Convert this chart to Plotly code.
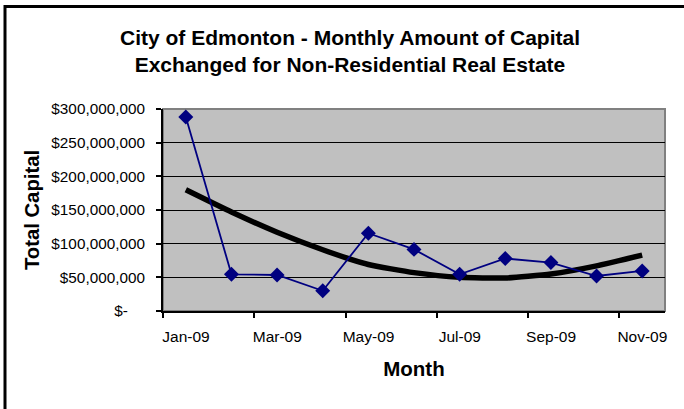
import plotly.graph_objects as go

months = ["Jan-09", "Feb-09", "Mar-09", "Apr-09", "May-09", "Jun-09",
          "Jul-09", "Aug-09", "Sep-09", "Oct-09", "Nov-09"]
capital = [288e6, 54.5e6, 53.5e6, 30e6, 115.5e6, 91.5e6,
           54.5e6, 78e6, 72e6, 52e6, 59.5e6]
trend = [180e6, 147e6, 117e6, 91e6, 69e6, 57e6, 50e6, 49e6, 55e6, 67e6, 83e6]
y_ticks = [0, 50e6, 100e6, 150e6, 200e6, 250e6, 300e6]
y_labels = ["$-\u00a0\u00a0\u00a0\u00a0", "$50,000,000", "$100,000,000", "$150,000,000",
            "$200,000,000", "$250,000,000", "$300,000,000"]

FONT = "Liberation Sans, Arial, sans-serif"
xs = list(range(len(months)))

fig = go.Figure()
fig.add_trace(go.Scatter(x=xs, y=trend, mode="lines",
                         line=dict(color="black", width=5.5, shape="spline", smoothing=0.5),
                         hoverinfo="skip", showlegend=False))
fig.add_trace(go.Scatter(x=xs, y=capital, mode="lines+markers",
                         line=dict(color="#000080", width=1.8),
                         marker=dict(symbol="diamond", size=11.5, color="#000080"),
                         showlegend=False))

tick_pos = [i - 0.5 for i in range(0, len(months), 2)]
tick_txt = [months[i] for i in range(0, len(months), 2)]

fig.update_layout(
    width=684, height=409,
    margin=dict(l=163, r=19, t=109, b=98),
    paper_bgcolor="white", plot_bgcolor="#C0C0C0",
    font=dict(family=FONT, size=15, color="black"),
    title=dict(text="<b>City of Edmonton - Monthly Amount of Capital<br>Exchanged for Non-Residential Real Estate</b>",
               font=dict(size=21, family=FONT, color="black"),
               x=350/684, xanchor="center", yref="container", y=1-45/409, yanchor="middle"),
    xaxis=dict(range=[-0.5, len(months) - 0.5], tickvals=tick_pos, ticktext=tick_txt,
               ticklabelshift=23, ticklabelstandoff=5,
               ticks="outside", ticklen=5, tickwidth=2, tickcolor="black",
               showline=True, linecolor="black", linewidth=2, showgrid=False, zeroline=False,
               tickfont=dict(size=15.5),
               title=dict(text="<b>Month</b>", font=dict(size=20.5), standoff=18)),
    yaxis=dict(range=[0, 300e6], tickvals=y_ticks, ticktext=y_labels,
               ticklabelstandoff=8,
               ticks="outside", ticklen=5, tickwidth=1.5, tickcolor="black",
               showline=True, linecolor="black", linewidth=2,
               showgrid=True, gridcolor="black", gridwidth=1, zeroline=False,
               tickfont=dict(size=15.3),
               title=dict(text="<b>Total Capital</b>", font=dict(size=20.3), standoff=6)),
    shapes=[
        dict(type="rect", xref="paper", yref="paper", x0=0, x1=1, y0=0, y1=1,
             line=dict(color="#808080", width=2), layer="between"),
        dict(type="rect", xref="paper", yref="paper",
             x0=(5 - 163) / 502, x1=(720 - 163) / 502,
             y0=(311 - 440) / 202, y1=(311 - 6.5) / 202,
             line=dict(color="black", width=3), layer="above"),
    ],
)
fig.write_html("out.html")
